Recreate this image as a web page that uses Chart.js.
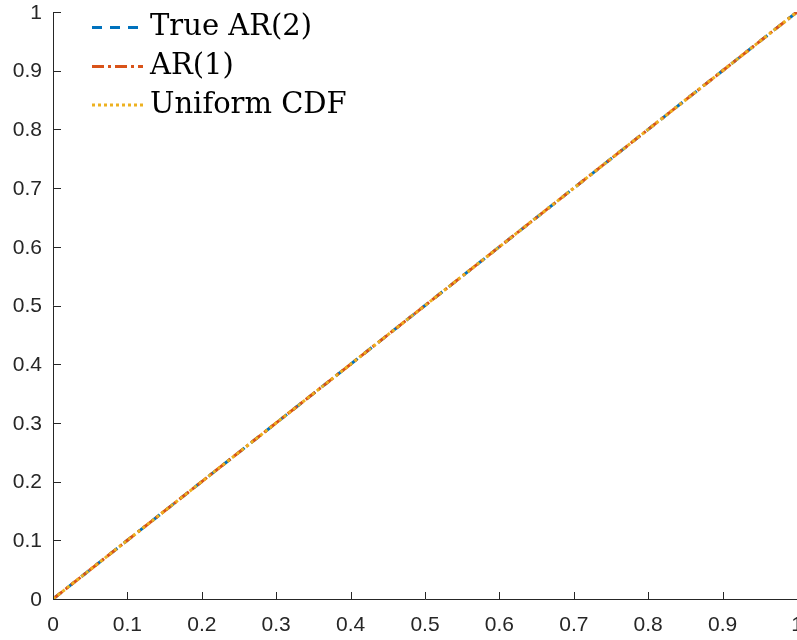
<!DOCTYPE html>
<html>
<head>
<meta charset="utf-8">
<script src="https://cdn.jsdelivr.net/npm/chart.js@4/dist/chart.umd.min.js"></script>
<style>
html,body{margin:0;padding:0;background:#fff;}
#wrap{width:797px;height:640px;position:relative;}
</style>
</head>
<body>
<div id="wrap"><canvas id="c" width="797" height="640"></canvas></div>
<script>
// Data (all three curves lie on the diagonal)
const xValues = [0, 0.1, 0.2, 0.3, 0.4, 0.5, 0.6, 0.7, 0.8, 0.9, 1];
const trueAR2 = [0, 0.1, 0.2, 0.3, 0.4, 0.5, 0.6, 0.7, 0.8, 0.9, 1];
const ar1 = [0, 0.1, 0.2, 0.3, 0.4, 0.5, 0.6, 0.7, 0.8, 0.9, 1];
const uniformCDF = [0, 0.1, 0.2, 0.3, 0.4, 0.5, 0.6, 0.7, 0.8, 0.9, 1];
const seriesNames = ['True AR(2)', 'AR(1)', 'Uniform CDF'];
const xTickLabels = ['0', '0.1', '0.2', '0.3', '0.4', '0.5', '0.6', '0.7', '0.8', '0.9', '1'];
const yTickLabels = ['0', '0.1', '0.2', '0.3', '0.4', '0.5', '0.6', '0.7', '0.8', '0.9', '1'];

const colors = ['#0072BD', '#D95319', '#EDB120'];
const dashes = [[10, 8], [12, 4, 3, 4], [3, 3]];

function pts(ys) { return xValues.map((x, i) => ({x: x, y: ys[i]})); }

const axisPlugin = {
  id: 'matlabAxes',
  afterDatasetsDraw(chart) {
    const ctx = chart.ctx;
    const xs = chart.scales.x, ys = chart.scales.y;
    const a = chart.chartArea;
    ctx.save();
    ctx.strokeStyle = '#262626';
    ctx.lineWidth = 1;
    ctx.setLineDash([]);
    // axis lines
    ctx.beginPath();
    ctx.moveTo(a.left + 0.5, a.top);
    ctx.lineTo(a.left + 0.5, a.bottom + 0.5);
    ctx.lineTo(a.right, a.bottom + 0.5);
    ctx.stroke();
    // ticks (inward)
    ctx.beginPath();
    xTickLabels.forEach(l => {
      const px = Math.round(xs.getPixelForValue(parseFloat(l))) + 0.5;
      ctx.moveTo(px, a.bottom);
      ctx.lineTo(px, a.bottom - 7);
    });
    yTickLabels.forEach(l => {
      const py = Math.round(ys.getPixelForValue(parseFloat(l))) + 0.5;
      ctx.moveTo(a.left, py);
      ctx.lineTo(a.left + 8, py);
    });
    ctx.stroke();
    // labels
    ctx.fillStyle = '#262626';
    ctx.font = '21px "Liberation Sans", Arial, sans-serif';
    ctx.textAlign = 'center';
    ctx.textBaseline = 'middle';
    xTickLabels.forEach(l => {
      ctx.fillText(l, xs.getPixelForValue(parseFloat(l)), a.bottom + 26);
    });
    ctx.textAlign = 'right';
    yTickLabels.forEach(l => {
      ctx.fillText(l, a.left - 11, ys.getPixelForValue(parseFloat(l)) + 1);
    });
    // legend
    const rows = [27.5, 66.5, 105];
    ctx.font = '29px "DejaVu Serif", serif';
    ctx.textAlign = 'left';
    ctx.textBaseline = 'middle';
    seriesNames.forEach((n, i) => {
      ctx.strokeStyle = colors[i];
      ctx.lineWidth = 3;
      ctx.setLineDash(dashes[i]);
      ctx.beginPath();
      ctx.moveTo(92, rows[i]);
      ctx.lineTo(143, rows[i]);
      ctx.stroke();
      ctx.fillStyle = '#000';
      ctx.fillText(n, 150, rows[i]);
    });
    ctx.restore();
  }
};

new Chart(document.getElementById('c'), {
  type: 'scatter',
  data: {
    datasets: [
      {label: seriesNames[0], data: pts(trueAR2), showLine: true, borderColor: colors[0], borderWidth: 3, borderDash: dashes[0], pointRadius: 0, order: 3},
      {label: seriesNames[1], data: pts(ar1), showLine: true, borderColor: colors[1], borderWidth: 3, borderDash: dashes[1], pointRadius: 0, order: 2},
      {label: seriesNames[2], data: pts(uniformCDF), showLine: true, borderColor: colors[2], borderWidth: 3, borderDash: dashes[2], pointRadius: 0, order: 1}
    ]
  },
  options: {
    responsive: false,
    animation: false,
    layout: {padding: {left: 53, right: 0, top: 12, bottom: 41}},
    plugins: {legend: {display: false}, tooltip: {enabled: false}},
    scales: {
      x: {type: 'linear', min: 0, max: 1, display: false},
      y: {type: 'linear', min: 0, max: 1, display: false}
    }
  },
  plugins: [axisPlugin]
});
</script>
</body>
</html>
